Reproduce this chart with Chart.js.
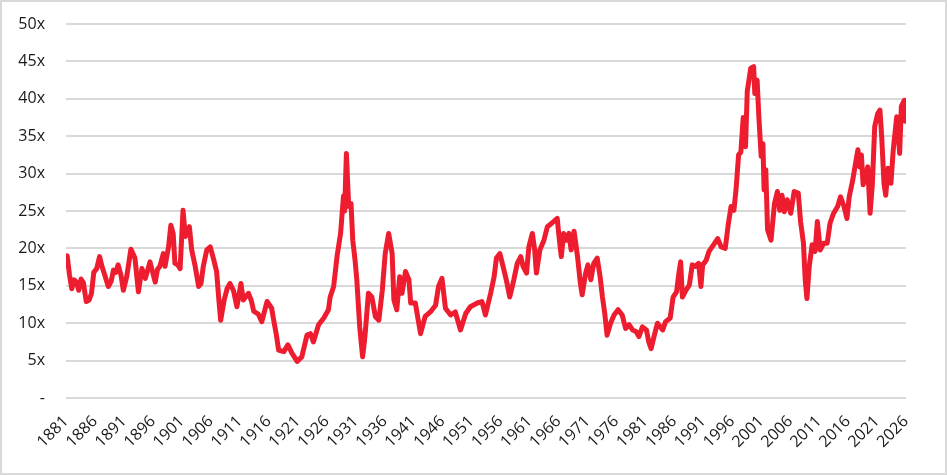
<!DOCTYPE html>
<html>
<head>
<meta charset="utf-8">
<title>CAPE</title>
<script src="https://cdn.jsdelivr.net/npm/chart.js@4.4.1/dist/chart.umd.min.js"></script>
<style>
    html, body { margin: 0; padding: 0; background: #fff; overflow: hidden; }
    #wrap { position: relative; width: 947px; height: 475px; }
    #frame {
        position: absolute; left: 0; top: 0; right: 0; bottom: 0;
        border: 2px solid #d9d9d9; box-sizing: border-box; pointer-events: none;
    }
</style>
</head>
<body>
<div id="wrap">
    <canvas id="capeChart"></canvas>
    <div id="frame"></div>
</div>
<script>
// Dados (ano decimal, múltiplo P/L)
const years = [
    1881.0, 1881.2, 1881.6, 1882.0, 1882.4, 1882.8, 1883.2, 1883.6, 1884.0, 1884.5,
    1885.0, 1885.4, 1885.8, 1886.3, 1886.8, 1887.2, 1887.7, 1888.3, 1888.8, 1889.2,
    1889.6, 1890.0, 1890.5, 1890.9, 1891.5, 1892.2, 1892.9, 1893.5, 1894.1, 1894.7,
    1895.5, 1896.4, 1896.8, 1897.2, 1897.8, 1898.1, 1898.7, 1899.1, 1899.5, 1899.8,
    1900.3, 1900.7, 1901.2, 1901.6, 1902.3, 1902.7, 1903.3, 1903.9, 1904.3, 1904.7,
    1905.3, 1905.9, 1906.5, 1907.0, 1907.4, 1907.7, 1908.3, 1908.8, 1909.3, 1909.9,
    1910.5, 1911.2, 1911.6, 1912.5, 1913.0, 1913.4, 1914.2, 1914.8, 1915.7, 1916.5,
    1916.8, 1917.3, 1917.7, 1918.6, 1919.3, 1920.0, 1920.9, 1921.7, 1922.6, 1923.2,
    1923.7, 1924.6, 1925.5, 1926.3, 1926.6, 1927.2, 1927.8, 1928.4, 1928.9, 1929.1,
    1929.4, 1929.8, 1930.2, 1930.5, 1930.9, 1931.2, 1931.7, 1932.2, 1932.5, 1932.7,
    1933.2, 1933.8, 1934.4, 1935.0, 1935.6, 1936.1, 1936.7, 1937.3, 1937.6, 1938.1,
    1938.6, 1939.0, 1939.6, 1940.2, 1940.5, 1941.3, 1942.2, 1943.0, 1943.9, 1944.8,
    1945.3, 1945.9, 1946.5, 1947.4, 1948.2, 1949.1, 1950.0, 1950.8, 1952.0, 1952.8,
    1953.4, 1954.3, 1954.9, 1955.3, 1955.9, 1956.6, 1957.0, 1957.6, 1958.3, 1958.9,
    1959.5, 1959.9, 1960.5, 1960.9, 1961.5, 1961.9, 1962.2, 1962.8, 1963.5, 1964.1,
    1964.9, 1965.8, 1966.1, 1966.5, 1966.9, 1967.4, 1967.8, 1968.2, 1968.7, 1969.3,
    1969.8, 1970.1, 1970.7, 1971.1, 1971.6, 1972.1, 1972.7, 1973.2, 1973.6, 1974.0,
    1974.4, 1975.0, 1975.6, 1976.3, 1977.0, 1977.6, 1978.2, 1978.8, 1979.4, 1979.9,
    1980.5, 1981.2, 1981.6, 1982.0, 1982.5, 1983.1, 1984.0, 1984.5, 1985.3, 1985.8,
    1986.4, 1986.8, 1987.1, 1987.4, 1988.0, 1988.6, 1989.1, 1989.7, 1990.2, 1990.6,
    1990.9, 1991.5, 1992.0, 1992.8, 1993.5, 1994.1, 1994.8, 1995.3, 1995.8, 1996.3,
    1996.7, 1997.1, 1997.5, 1997.9, 1998.3, 1998.6, 1999.2, 1999.7, 1999.9, 2000.3,
    2000.6, 2001.0, 2001.3, 2001.5, 2001.8, 2002.1, 2002.7, 2003.3, 2003.8, 2004.2,
    2004.6, 2005.0, 2005.5, 2006.1, 2006.7, 2007.4, 2007.8, 2008.3, 2008.6, 2008.9,
    2009.3, 2009.8, 2010.3, 2010.7, 2011.2, 2011.8, 2012.4, 2012.9, 2013.5, 2014.2,
    2014.7, 2015.3, 2015.8, 2016.2, 2016.8, 2017.1, 2017.7, 2018.0, 2018.3, 2018.6,
    2019.0, 2019.4, 2019.8, 2020.2, 2020.6, 2021.1, 2021.5, 2021.8, 2022.2, 2022.5,
    2022.9, 2023.4, 2023.8, 2024.4, 2024.7, 2024.9, 2025.2, 2025.7, 2025.9, 2026.0
];

const cape = [
    18.5, 19.0, 16.5, 14.6, 15.8, 15.5, 14.4, 15.9, 15.4, 12.9,
    13.1, 14.0, 16.8, 17.3, 18.9, 17.6, 16.4, 14.9, 15.6, 17.1,
    16.8, 17.8, 16.4, 14.4, 16.3, 19.9, 18.7, 14.2, 17.3, 16.0,
    18.2, 15.5, 17.2, 17.6, 19.3, 17.6, 20.2, 23.1, 22.0, 18.0,
    17.8, 17.3, 25.1, 21.6, 22.9, 19.8, 17.6, 14.9, 15.3, 17.6,
    19.8, 20.2, 18.5, 16.9, 13.0, 10.4, 13.1, 14.6, 15.3, 14.4,
    12.2, 15.3, 13.1, 14.0, 13.0, 11.6, 11.2, 10.2, 12.9, 12.0,
    10.6, 8.5, 6.4, 6.2, 7.1, 6.0, 4.9, 5.5, 8.4, 8.6,
    7.5, 9.8, 10.7, 11.8, 13.5, 14.9, 19.0, 22.0, 27.0, 25.0,
    32.7, 25.6, 26.0, 21.1, 18.4, 15.8, 9.5, 5.5, 7.5, 9.1,
    14.0, 13.5, 10.9, 10.4, 14.4, 19.3, 22.0, 19.3, 13.1, 11.8,
    16.2, 14.0, 16.9, 15.8, 12.7, 12.7, 8.6, 10.9, 11.5, 12.4,
    14.9, 16.0, 12.0, 11.1, 11.5, 9.1, 11.3, 12.2, 12.7, 12.9,
    11.1, 14.0, 16.2, 18.7, 19.3, 17.1, 15.8, 13.5, 15.8, 18.0,
    18.9, 17.6, 16.7, 20.2, 22.0, 19.8, 16.7, 19.8, 21.1, 22.9,
    23.4, 24.0, 21.6, 18.9, 22.0, 21.1, 22.0, 19.8, 22.3, 18.9,
    15.3, 13.8, 16.7, 17.8, 15.8, 18.0, 18.7, 16.2, 13.5, 11.3,
    8.4, 10.0, 11.1, 11.8, 11.1, 9.3, 9.8, 9.1, 8.9, 8.2,
    9.5, 9.1, 7.5, 6.6, 8.2, 10.0, 9.1, 10.2, 10.7, 13.5,
    14.2, 16.7, 18.2, 13.5, 14.4, 15.1, 17.8, 17.6, 18.0, 14.9,
    17.8, 18.4, 19.6, 20.5, 21.3, 20.2, 20.0, 23.1, 25.6, 25.1,
    28.2, 32.5, 32.9, 37.5, 33.6, 41.0, 44.1, 44.3, 40.7, 42.5,
    37.6, 32.3, 34.0, 27.8, 30.5, 22.5, 21.1, 26.0, 27.6, 25.1,
    27.1, 24.9, 26.5, 24.7, 27.6, 27.4, 23.6, 20.7, 15.8, 13.3,
    17.6, 20.5, 19.6, 23.6, 19.8, 20.7, 20.7, 23.4, 24.7, 25.6,
    26.9, 25.6, 24.0, 26.9, 29.1, 30.5, 33.2, 30.9, 32.5, 28.5,
    29.6, 30.9, 24.7, 28.7, 36.3, 38.0, 38.5, 35.0, 28.7, 27.1,
    30.7, 28.7, 33.2, 37.6, 35.0, 32.7, 39.0, 39.8, 37.0, 39.8
];

// Rótulos do eixo X (a cada 5 anos)
const tickYears = [];
for (let y = 1881; y <= 2026; y += 5) tickYears.push(y);

const yTicks = [0, 5, 10, 15, 20, 25, 30, 35, 40, 45, 50];

document.addEventListener("DOMContentLoaded", () => {
    const ctx = document.getElementById('capeChart').getContext('2d');

    const points = years.map((x, i) => ({ x: x, y: cape[i] }));

    new Chart(ctx, {
        type: 'line',
        data: {
            datasets: [{
                data: points,
                borderColor: 'rgb(237, 28, 46)',
                borderWidth: 5,
                pointRadius: 0,
                tension: 0,
                borderJoinStyle: 'round',
                borderCapStyle: 'round'
            }]
        },
        options: {
            responsive: true,
            maintainAspectRatio: false,
            animation: false,
            layout: { padding: { left: 0, right: 41, top: 24, bottom: 0 } },
            plugins: {
                legend: { display: false },
                tooltip: { enabled: false }
            },
            scales: {
                x: {
                    type: 'linear',
                    min: 1881,
                    max: 2026,
                    afterBuildTicks: (scale) => {
                        scale.ticks = tickYears.map(v => ({ value: v }));
                    },
                    afterFit: (scale) => { scale.height = 77; },
                    grid: { display: false },
                    border: { display: false },
                    ticks: {
                        autoSkip: false,
                        maxRotation: 45,
                        minRotation: 45,
                        padding: 6,
                        color: '#1a1a1a',
                        font: { family: 'Open Sans', size: 16 },
                        callback: (v) => String(v)
                    }
                },
                y: {
                    min: 0,
                    max: 50,
                    afterBuildTicks: (scale) => {
                        scale.ticks = yTicks.map(v => ({ value: v }));
                    },
                    afterFit: (scale) => {
                        // largura fixa e sem folga extra em cima/baixo
                        scale.width = 66;
                        scale.paddingTop = 0;
                        scale.paddingBottom = 0;
                    },
                    grid: { color: '#d9d9d9', lineWidth: 2, drawTicks: false },
                    border: { display: false },
                    ticks: {
                        padding: 21,
                        color: '#1a1a1a',
                        font: { family: 'Open Sans', size: 16 },
                        callback: (v) => v === 0 ? '-' : v + 'x'
                    }
                }
            }
        }
    });
});
</script>
</body>
</html>
